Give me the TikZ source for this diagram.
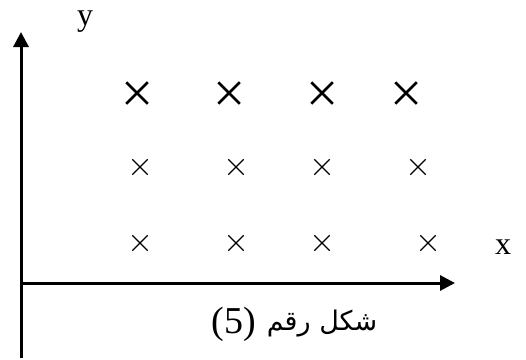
\documentclass[tikz,border=0pt]{standalone}
\usepackage{fontspec}
\setmainfont{Liberation Serif}
\newfontfamily\arabicfont[Script=Arabic]{DejaVu Sans}
\TeXXeTstate=1
\usetikzlibrary{arrows.meta,shapes.misc}

\begin{document}
\begin{tikzpicture}[x=1pt, y=-1pt,
    axis/.style={line width=3pt, -{Triangle[length=15pt,width=15pt]}},
    bigx/.style={cross out, draw, line width=2.5pt, minimum size=19pt, inner sep=0pt},
    smallx/.style={cross out, draw, line width=1.3pt, minimum size=14pt, inner sep=0pt}]
    \useasboundingbox (0,0) rectangle (526,359);
    % axes
    \coordinate (B) at (21,358);
    \coordinate (Yt) at (21,32);
    \coordinate (O) at (21,283);
    \coordinate (Xt) at (455,283);
    \draw[axis] (B) -- (Yt);
    \draw[axis] (O) -- (Xt);
    \node[inner sep=0pt] (y) at (85,22) {\fontsize{32}{34}\selectfont y};
    \node[inner sep=0pt] (x) at (503,247) {\fontsize{32}{34}\selectfont x};
    % top row
    \node[bigx] (a1) at (137,93) {};
    \node[bigx] (a2) at (229,93) {};
    \node[bigx] (a3) at (322,93) {};
    \node[bigx] (a4) at (406,93) {};
    % middle row
    \node[smallx] (b1) at (140,167) {};
    \node[smallx] (b2) at (236,167) {};
    \node[smallx] (b3) at (322,167) {};
    \node[smallx] (b4) at (418,167) {};
    % bottom row
    \node[smallx] (c1) at (140,243) {};
    \node[smallx] (c2) at (236,243) {};
    \node[smallx] (c3) at (322,243) {};
    \node[smallx] (c4) at (428,243) {};
    % caption
    \node[inner sep=0pt, anchor=base] (cap) at (322,330) {\fontsize{27}{30}\arabicfont\selectfont\beginR شكل رقم\endR};
    \node[inner sep=0pt, anchor=base] (num) at (234,333) {\fontsize{38}{40}\selectfont (5)};
\end{tikzpicture}
\end{document}
